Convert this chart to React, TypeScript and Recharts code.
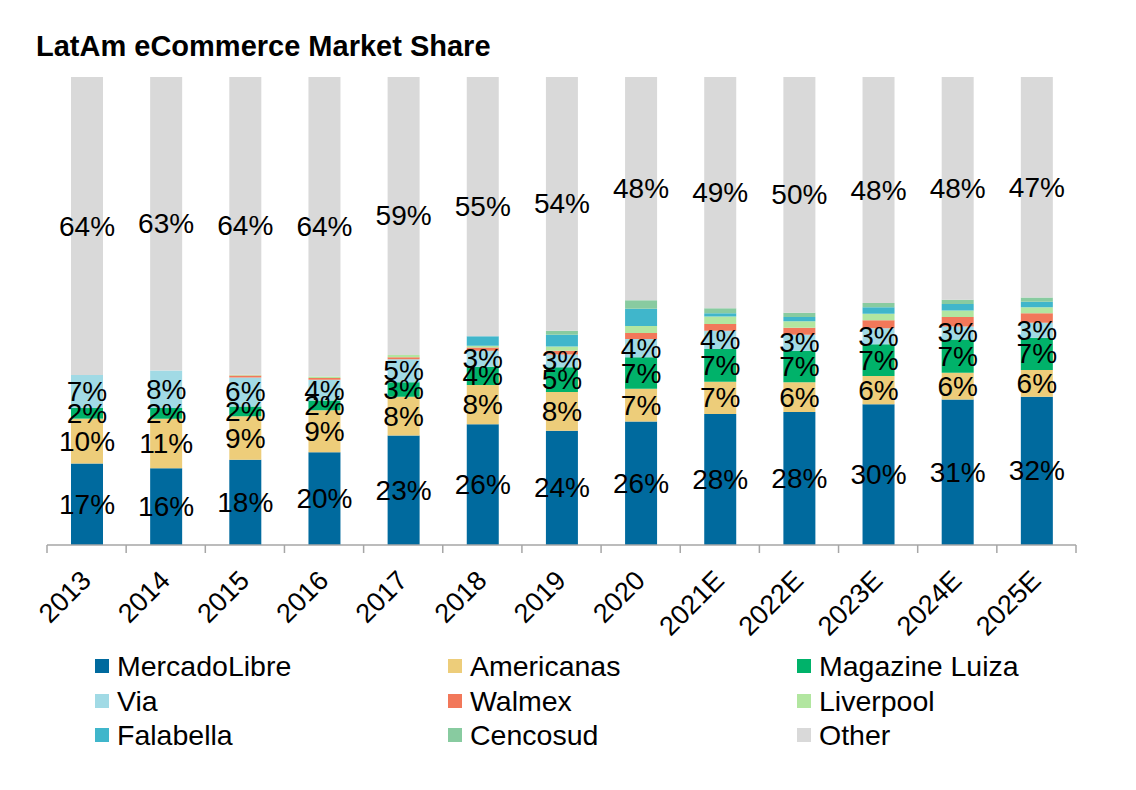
import React from 'react'
import { BarChart, Bar, XAxis, YAxis, LabelList, Legend } from 'recharts'

const years = ['2013', '2014', '2015', '2016', '2017', '2018', '2019', '2020', '2021E', '2022E', '2023E', '2024E', '2025E']

const mercadoLibre = [17.4, 16.4, 18.2, 19.8, 23.4, 25.8, 24.4, 26.4, 28.0, 28.4, 30.1, 31.1, 31.7]
const americanas = [9.6, 10.6, 9.3, 9.0, 8.3, 8.4, 8.3, 7.0, 6.9, 6.4, 6.0, 5.7, 5.7]
const magazineLuiza = [2.3, 2.3, 2.1, 2.1, 3.1, 3.9, 5.3, 6.7, 7.0, 6.7, 6.8, 7.1, 6.9]
const via = [7.0, 8.0, 6.2, 4.4, 4.9, 3.4, 2.7, 3.9, 3.9, 3.4, 3.4, 2.8, 3.2]
const walmex = [0, 0, 0.4, 0.4, 0.4, 0.7, 0.8, 1.3, 1.4, 1.5, 1.7, 2.0, 2.0]
const liverpool = [0, 0, 0.2, 0.3, 0.5, 0.4, 0.9, 1.5, 1.6, 1.4, 1.4, 1.4, 1.3]
const falabella = [0, 0, 0, 0, 0, 2.0, 2.5, 3.7, 0.7, 0.9, 1.4, 1.4, 1.2]
const cencosud = [0, 0, 0, 0, 0, 0, 0.9, 1.8, 1.1, 0.9, 0.9, 0.9, 0.9]
const other = [63.7, 62.7, 63.6, 64.0, 59.4, 55.4, 54.2, 47.7, 49.4, 50.4, 48.3, 47.6, 47.1]

const series = [
  { key: 'ml', name: 'MercadoLibre', color: '#006a9e', values: mercadoLibre, label: true },
  { key: 'am', name: 'Americanas', color: '#edcd7a', values: americanas, label: true },
  { key: 'mg', name: 'Magazine Luiza', color: '#00b26a', values: magazineLuiza, label: true },
  { key: 'via', name: 'Via', color: '#a1dae5', values: via, label: true },
  { key: 'wm', name: 'Walmex', color: '#f2785a', values: walmex, label: false },
  { key: 'lv', name: 'Liverpool', color: '#b2e6a0', values: liverpool, label: false },
  { key: 'fb', name: 'Falabella', color: '#40b6cb', values: falabella, label: false },
  { key: 'cs', name: 'Cencosud', color: '#88cba0', values: cencosud, label: false },
  { key: 'ot', name: 'Other', color: '#d9d9d9', values: other, label: true },
]

const data = years.map((year, i) => {
  const row: Record<string, string | number> = { year }
  series.forEach((s) => {
    row[s.key] = s.values[i]
  })
  return row
})

const W = 1136
const H = 790
const margin = { top: 77, right: 60, bottom: 215, left: 47 }
const band = (W - margin.left - margin.right) / years.length
const font = '"Liberation Sans", Arial, sans-serif'

const SegmentLabel = (props: any) => {
  const { x, y, width, height } = props
  let v = props.value
  if (Array.isArray(v)) v = v[1] - v[0]
  if (v == null || v <= 0) return null
  return (
    <text
      x={x + width / 2}
      y={y + height / 2}
      textAnchor="middle"
      dominantBaseline="central"
      fontSize={28}
      fontFamily={font}
      fill="#000"
    >
      {Math.round(v)}%
    </text>
  )
}

const YearTick = (props: any) => {
  const { x, y, payload, index } = props
  const last = index === years.length - 1
  return (
    <g transform={`translate(${x},${y})`}>
      <line x1={-band / 2} x2={-band / 2} y1={0} y2={8} stroke="#a6a6a6" strokeWidth={1.5} />
      {last && <line x1={band / 2} x2={band / 2} y1={0} y2={8} stroke="#a6a6a6" strokeWidth={1.5} />}
      <text
        transform="translate(6,37) rotate(-45)"
        textAnchor="end"
        fontSize={27}
        fontFamily={font}
        fill="#000"
      >
        {payload.value}
      </text>
    </g>
  )
}

const LegendGrid = () => (
  <div
    style={{
      display: 'grid',
      gridTemplateColumns: '353px 349px 300px',
      gridAutoRows: '34.5px',
      fontFamily: font,
      fontSize: 28.5,
      color: '#000',
    }}
  >
    {series.map((s) => (
      <div key={s.key} style={{ display: 'flex', alignItems: 'center', whiteSpace: 'nowrap' }}>
        <span style={{ width: 14, height: 14, background: s.color, marginRight: 8, flexShrink: 0 }} />
        <span style={{ lineHeight: '34.5px' }}>{s.name}</span>
      </div>
    ))}
  </div>
)

export default function App() {
  return (
    <div style={{ position: 'absolute', left: 0, top: 0, width: W, height: H, background: '#fff' }}>
      <div
        style={{
          position: 'absolute',
          left: 36,
          top: 32,
          fontFamily: font,
          fontWeight: 'bold',
          fontSize: 29,
          lineHeight: '29px',
          color: '#000',
        }}
      >
        LatAm eCommerce Market Share
      </div>
      <BarChart width={W} height={H} data={data} margin={margin} barSize={32}>
        <XAxis
          dataKey="year"
          axisLine={{ stroke: '#a6a6a6', strokeWidth: 1.5 }}
          tickLine={false}
          tickSize={0}
          tickMargin={0}
          interval={0}
          tick={<YearTick />}
        />
        <YAxis hide domain={[0, 100]} />
        {series.map((s) => (
          <Bar key={s.key} dataKey={s.key} name={s.name} stackId="a" fill={s.color} isAnimationActive={false}>
            {s.label && <LabelList dataKey={s.key} content={<SegmentLabel />} />}
          </Bar>
        ))}
        <Legend
          layout="horizontal"
          verticalAlign="middle"
          align="center"
          content={<LegendGrid />}
          wrapperStyle={{ position: 'absolute', left: 95, top: 649, width: 1020, height: 110 }}
        />
      </BarChart>
    </div>
  )
}
